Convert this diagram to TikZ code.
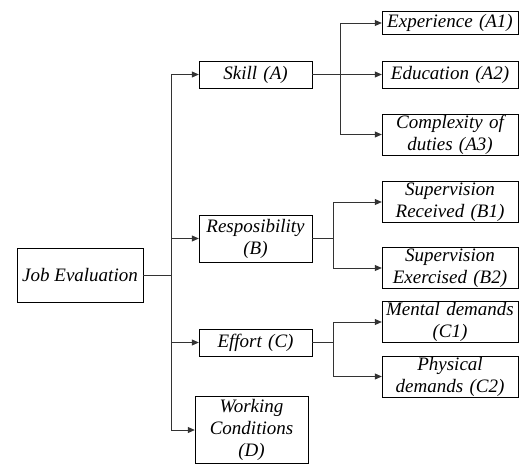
\documentclass[tikz,border=0pt]{standalone}
\usepackage{fontspec}
\setmainfont{Liberation Serif}
\newfontfamily\treefont{LiberationSerif}[Extension=.ttf, UprightFont=*-Regular, ItalicFont=*-Italic]
\usepackage{tikz}
\usetikzlibrary{arrows.meta}
\tikzset{
    eval-box/.style = {draw=black, fill=white, thin, rectangle, inner sep=1pt, align=center, font=\treefont\itshape\fontsize{19}{22}\selectfont},
    mid-box/.style = {eval-box, minimum width=113pt, text width=109pt},
    sub-box/.style = {eval-box, minimum width=136pt, text width=132pt},
    tree-line/.style = {draw=black!80, line width=0.8pt},
    tree-arrow/.style = {tree-line, -{Triangle[length=7pt,width=6pt]}},
}

\begin{document}
\begin{tikzpicture}[x=1pt, y=-1pt]
\useasboundingbox (0,0) rectangle (519,464);
% root and first level
\node [eval-box, minimum width=126pt, minimum height=54pt] (job) at (80,275) {Job Evaluation};
\node [mid-box, minimum height=27pt] (skill) at (255.5,74.5) {Skill (A)};
\node [mid-box, minimum height=47pt] (resp) at (255.5,238.5) {Resposibility\\(B)};
\node [mid-box, minimum height=27pt] (effort) at (255.5,342.5) {Effort (C)};
\node [mid-box, minimum height=67pt] (work) at (251.5,430) {Working\\Conditions\\(D)};
% second level
\node [sub-box, minimum height=23pt] (exp) at (450,23) {Experience (A1)};
\node [sub-box, minimum height=27pt] (edu) at (450,74.5) {Education (A2)};
\node [sub-box, minimum height=41pt] (comp) at (450,134.5) {Complexity of\\duties (A3)};
\node [sub-box, minimum height=40pt] (recv) at (450,202) {Supervision\\Received (B1)};
\node [sub-box, minimum height=40pt] (exer) at (450,268) {Supervision\\Exercised (B2)};
\node [sub-box, minimum height=40pt] (mental) at (450,322) {Mental demands\\(C1)};
\node [sub-box, minimum height=41pt] (phys) at (450,376.5) {Physical\\demands (C2)};

% split points
\coordinate (trunk) at (171,275);
\coordinate (skill-split) at (340,74.5);
\coordinate (resp-split) at (333,238.5);
\coordinate (effort-split) at (333,342.5);

\draw [tree-line] (job.east) -- (trunk);
\foreach \n in {skill, resp, effort, work}
    \draw [tree-arrow] (trunk) |- (\n.west);

\draw [tree-line] (skill.east) -- (skill-split);
\foreach \n in {exp, edu, comp}
    \draw [tree-arrow] (skill-split) |- (\n.west);

\draw [tree-line] (resp.east) -- (resp-split);
\foreach \n in {recv, exer}
    \draw [tree-arrow] (resp-split) |- (\n.west);

\draw [tree-line] (effort.east) -- (effort-split);
\foreach \n in {mental, phys}
    \draw [tree-arrow] (effort-split) |- (\n.west);
\end{tikzpicture}
\end{document}
